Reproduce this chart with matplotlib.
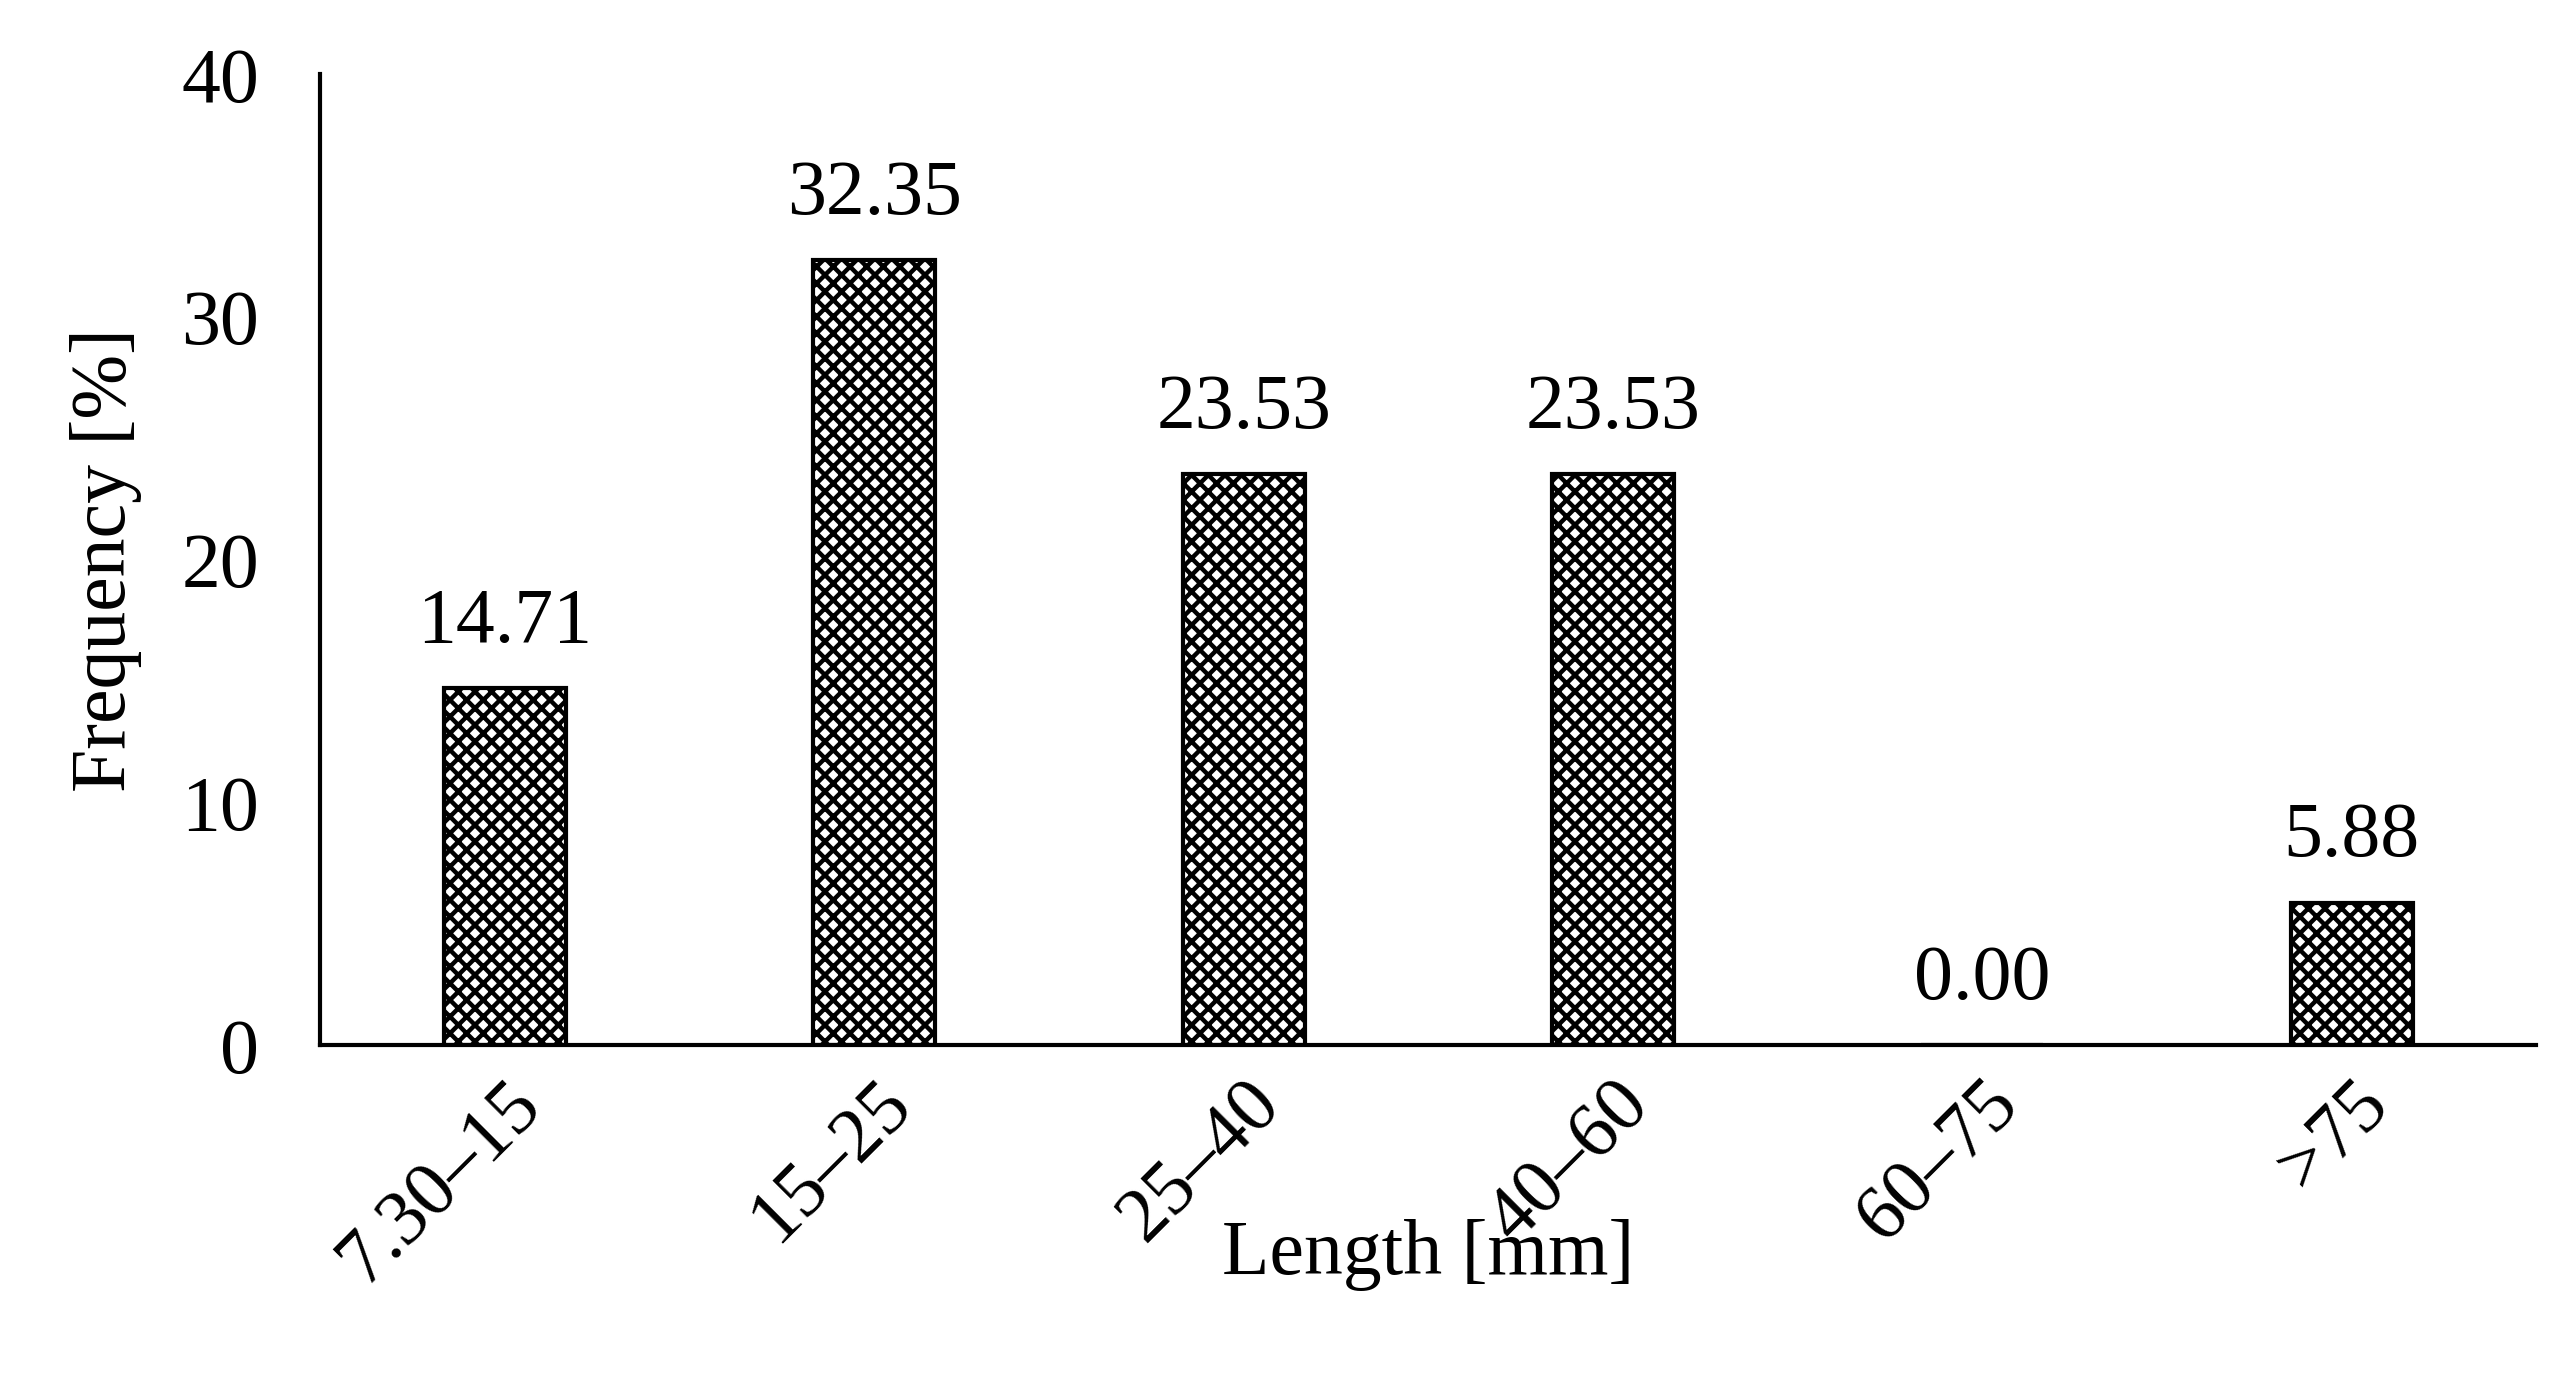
import matplotlib
matplotlib.use("Agg")
import matplotlib.pyplot as plt
import numpy as np

plt.rcParams["font.family"] = ["Liberation Serif", "DejaVu Serif"]
plt.rcParams["hatch.linewidth"] = 1.6

categories = ["7.30\u201315", "15\u201325", "25\u201340", "40\u201360", "60\u201375", ">75"]
frequency = [14.71, 32.35, 23.53, 23.53, 0.00, 5.88]

fig = plt.figure(figsize=(12.81, 6.895), dpi=200)
ax = fig.add_axes([0.125, 0.242, 0.865, 0.704])

x = np.arange(len(categories))
ax.bar(x, frequency, width=0.33, color="white", edgecolor="black",
       hatch="xxxx", linewidth=1.5)
for xi, v in zip(x, frequency):
    ax.text(xi, v + 1.2, f"{v:.2f}", ha="center", va="bottom", fontsize=28)

ax.set_xlim(-0.5, len(categories) - 0.5)
ax.set_ylim(0, 40)
ax.set_yticks([0, 10, 20, 30, 40])
ax.tick_params(axis="y", labelsize=28, length=0, pad=22)
ax.tick_params(axis="x", labelsize=28, length=0, pad=8)
ax.set_xticks(x)
ax.set_xticklabels(categories, rotation=45, ha="right", rotation_mode="anchor")
for s in ["top", "right"]:
    ax.spines[s].set_visible(False)
ax.spines["left"].set_linewidth(1.5)
ax.spines["bottom"].set_linewidth(1.5)
ax.set_ylabel("Frequency [%]", fontsize=28, labelpad=14)
ax.set_xlabel("Length [mm]", fontsize=28, labelpad=-28)

fig.savefig("out.png")
